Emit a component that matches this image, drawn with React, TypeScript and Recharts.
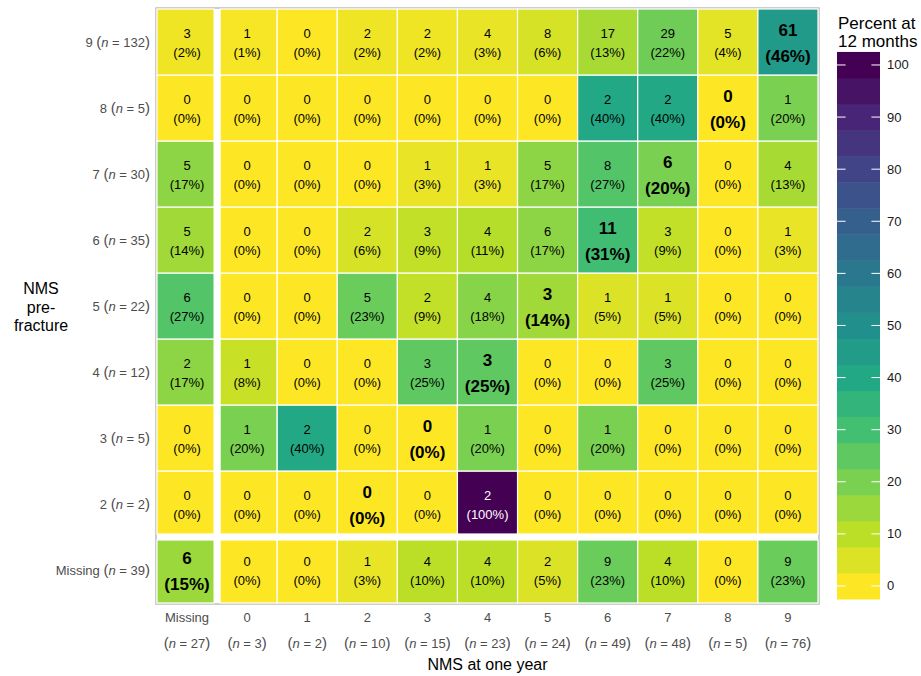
import { ScatterChart, Scatter, XAxis, YAxis, Customized } from "recharts";

// columns: NMS at one year
const colLabels = ["Missing", "0", "1", "2", "3", "4", "5", "6", "7", "8", "9"];
const colN = [27, 3, 2, 10, 15, 23, 24, 49, 48, 5, 76];

// rows: NMS pre-fracture, bottom to top
const rowLabels = ["Missing", "2", "3", "4", "5", "6", "7", "8", "9"];
const rowN = [39, 2, 5, 12, 22, 35, 30, 5, 132];

// counts and percentages per row, in column order
const countMissing = [6, 0, 0, 1, 4, 4, 2, 9, 4, 0, 9];
const pctMissing = [15, 0, 0, 3, 10, 10, 5, 23, 10, 0, 23];
const count2 = [0, 0, 0, 0, 0, 2, 0, 0, 0, 0, 0];
const pct2 = [0, 0, 0, 0, 0, 100, 0, 0, 0, 0, 0];
const count3 = [0, 1, 2, 0, 0, 1, 0, 1, 0, 0, 0];
const pct3 = [0, 20, 40, 0, 0, 20, 0, 20, 0, 0, 0];
const count4 = [2, 1, 0, 0, 3, 3, 0, 0, 3, 0, 0];
const pct4 = [17, 8, 0, 0, 25, 25, 0, 0, 25, 0, 0];
const count5 = [6, 0, 0, 5, 2, 4, 3, 1, 1, 0, 0];
const pct5 = [27, 0, 0, 23, 9, 18, 14, 5, 5, 0, 0];
const count6 = [5, 0, 0, 2, 3, 4, 6, 11, 3, 0, 1];
const pct6 = [14, 0, 0, 6, 9, 11, 17, 31, 9, 0, 3];
const count7 = [5, 0, 0, 0, 1, 1, 5, 8, 6, 0, 4];
const pct7 = [17, 0, 0, 0, 3, 3, 17, 27, 20, 0, 13];
const count8 = [0, 0, 0, 0, 0, 0, 0, 2, 2, 0, 1];
const pct8 = [0, 0, 0, 0, 0, 0, 0, 40, 40, 0, 20];
const count9 = [3, 1, 0, 2, 2, 4, 8, 17, 29, 5, 61];
const pct9 = [2, 1, 0, 2, 2, 3, 6, 13, 22, 4, 46];

const rowCounts = [countMissing, count2, count3, count4, count5, count6, count7, count8, count9];
const rowPcts = [pctMissing, pct2, pct3, pct4, pct5, pct6, pct7, pct8, pct9];

const legendBins = [0, 5, 10, 15, 20, 25, 30, 35, 40, 45, 50, 55, 60, 65, 70, 75, 80, 85, 90, 95, 100];
const legendTicks = [0, 10, 20, 30, 40, 50, 60, 70, 80, 90, 100];

const cells = rowCounts.flatMap((counts, r) =>
  counts.map((count, c) => ({
    x: c,
    y: r,
    count,
    pct: rowPcts[r][c],
    bold: rowLabels[r] === colLabels[c],
  }))
);

const W = 921;
const H = 676;
const Y_AXIS_W = 157;
const X_AXIS_H = 73;
const TOP = 9;
const RIGHT = 103;
const plotW = W - Y_AXIS_W - RIGHT;
const plotH = H - TOP - X_AXIS_H;
const cellW = plotW / colLabels.length;
const cellH = plotH / rowLabels.length;
const GAP = 3; // half of the white gap around the "Missing" row/column
const FONT = "'Liberation Sans', Arial, sans-serif";

const viridis = ["#440154", "#482576", "#414487", "#35608D", "#2A788E", "#21908C", "#22A884", "#43BF71", "#7AD151", "#BBDF27", "#FDE725"];

function hex(h: string) {
  return [1, 3, 5].map((i) => parseInt(h.slice(i, i + 2), 16));
}

function colorFor(pct: number) {
  const t = Math.max(0, Math.min(1, 1 - pct / 100)) * (viridis.length - 1);
  const i = Math.min(Math.floor(t), viridis.length - 2);
  const f = t - i;
  const a = hex(viridis[i]);
  const b = hex(viridis[i + 1]);
  const rgb = a.map((v, k) => Math.round(v + (b[k] - v) * f));
  return `rgb(${rgb.join(",")})`;
}

function CellShape(props: any) {
  const { cx, cy, payload } = props;
  const bold = payload.bold;
  const txt = payload.pct >= 70 ? "#fff" : "#000";
  let x0 = cx - cellW / 2;
  let x1 = cx + cellW / 2;
  let y0 = cy - cellH / 2;
  let y1 = cy + cellH / 2;
  if (payload.x === 0) x1 -= GAP;
  if (payload.x === 1) x0 += GAP;
  if (payload.y === 0) y0 += GAP;
  if (payload.y === 1) y1 -= GAP;
  return (
    <g>
      <rect x={x0} y={y0} width={x1 - x0} height={y1 - y0} fill={colorFor(payload.pct)} stroke="#fff" strokeWidth={1.2} />
      <text x={cx} y={cy + (bold ? -6 : -4.5)} textAnchor="middle" fontFamily={FONT} fontSize={bold ? 17 : 13} fontWeight={bold ? 700 : 400} fill={txt}>
        {payload.count}
      </text>
      <text x={cx} y={cy + (bold ? 20 : 14.5)} textAnchor="middle" fontFamily={FONT} fontSize={bold ? 17 : 13} fontWeight={bold ? 700 : 400} fill={txt}>
        ({payload.pct}%)
      </text>
    </g>
  );
}

function YTick(props: any) {
  const { y, payload } = props;
  const i = payload.value;
  return (
    <text x={150} y={y + 4.5} textAnchor="end" fontFamily={FONT} fontSize={13} fill="#4D4D4D">
      {rowLabels[i]} <tspan fontSize={15}>(</tspan>
      <tspan fontStyle="italic">n</tspan> = {rowN[i]}
      <tspan fontSize={15}>)</tspan>
    </text>
  );
}

function XTick(props: any) {
  const { x, payload } = props;
  const i = payload.value;
  return (
    <g fontFamily={FONT} fontSize={13} fill="#4D4D4D">
      <text x={x} y={622} textAnchor="middle">{colLabels[i]}</text>
      <text x={x} y={648} textAnchor="middle">
        <tspan fontSize={15}>(</tspan>
        <tspan fontStyle="italic">n</tspan> = {colN[i]}
        <tspan fontSize={15}>)</tspan>
      </text>
    </g>
  );
}

function Extras() {
  const barX = 837;
  const barW = 43;
  const barBottom = 599;
  const binH = 26.05;
  const yOf = (v: number) => barBottom - (v / 5 + 0.5) * binH;
  return (
    <g fontFamily={FONT}>
      <rect x={Y_AXIS_W - 1} y={TOP - 1} width={plotW + 2} height={plotH + 2} fill="none" stroke="#BDBDBD" strokeWidth={1.5} />
      <text x={Y_AXIS_W + plotW / 2} y={670} textAnchor="middle" fontSize={16} fill="#000">NMS at one year</text>
      <text x={41} textAnchor="middle" fontSize={16} fill="#000">
        <tspan x={41} y={294}>NMS</tspan>
        <tspan x={41} y={312.5}>pre-</tspan>
        <tspan x={41} y={331}>fracture</tspan>
      </text>
      <text fontSize={17} fill="#000">
        <tspan x={838} y={29}>Percent at</tspan>
        <tspan x={838} y={47}>12 months</tspan>
      </text>
      {legendBins.map((v, i) => (
        <rect key={v} x={barX} y={barBottom - (i + 1) * binH} width={barW} height={binH + 0.5} fill={colorFor(v)} />
      ))}
      {legendTicks.map((v) => (
        <g key={v}>
          <line x1={barX} x2={barX + 8.6} y1={yOf(v)} y2={yOf(v)} stroke="#fff" strokeWidth={1} />
          <line x1={barX + barW - 8.6} x2={barX + barW} y1={yOf(v)} y2={yOf(v)} stroke="#fff" strokeWidth={1} />
          <text x={887} y={yOf(v) + 4.5} fontSize={13} fill="#1A1A1A">{v}</text>
        </g>
      ))}
    </g>
  );
}

export default function App() {
  return (
    <div style={{ position: "absolute", left: 0, top: 0, background: "#fff" }}>
      <ScatterChart width={W} height={H} margin={{ top: TOP, right: RIGHT, bottom: 0, left: 0 }}>
        <XAxis
          type="number"
          dataKey="x"
          domain={[-0.5, colLabels.length - 0.5]}
          ticks={colLabels.map((_, i) => i)}
          height={X_AXIS_H}
          axisLine={false}
          tickLine={false}
          tick={<XTick />}
          interval={0}
        />
        <YAxis
          type="number"
          dataKey="y"
          domain={[-0.5, rowLabels.length - 0.5]}
          ticks={rowLabels.map((_, i) => i)}
          width={Y_AXIS_W}
          axisLine={false}
          tickLine={false}
          tick={<YTick />}
          interval={0}
        />
        <Scatter data={cells} shape={<CellShape />} isAnimationActive={false} />
        <Customized component={<Extras />} />
      </ScatterChart>
    </div>
  );
}
